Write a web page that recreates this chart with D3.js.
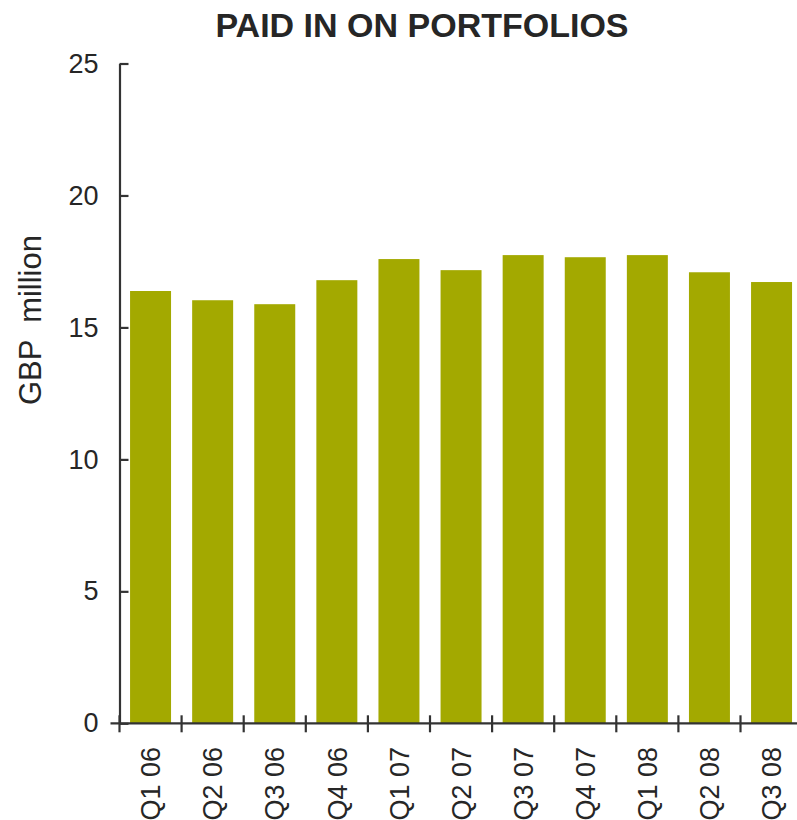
<!DOCTYPE html>
<html>
<head>
<meta charset="utf-8">
<script src="https://cdn.jsdelivr.net/npm/d3@7.9.0/dist/d3.min.js"></script>
<style>
  body { margin: 0; background: #fff; }
  svg { display: block; font-family: Arial, "Liberation Sans", sans-serif; }
</style>
</head>
<body>
<svg id="chart" width="797" height="820"></svg>
<script>
// quarters and paid-in values (GBP million)
const quarters = ["Q1 06", "Q2 06", "Q3 06", "Q4 06", "Q1 07", "Q2 07", "Q3 07", "Q4 07", "Q1 08", "Q2 08", "Q3 08"];
const paidIn = [16.38, 16.03, 15.88, 16.79, 17.59, 17.17, 17.74, 17.66, 17.74, 17.09, 16.72];
const yTicks = [0, 5, 10, 15, 20, 25];

const svg = d3.select("#chart");
const textColor = "#262626";
const barColor = "#a3a900";

// plot area
const plotLeft = 119.5, plotRight = 802.6, plotTop = 63.5, plotBottom = 723.3;

const x = d3.scaleBand()
    .domain(quarters)
    .range([plotLeft, plotRight])
    .paddingInner(0.34)
    .paddingOuter(0.17);

const y = d3.scaleLinear()
    .domain([0, 25])
    .range([plotBottom, plotTop]);

// bars
svg.append("g")
    .selectAll("rect")
    .data(quarters)
    .join("rect")
    .attr("x", d => x(d))
    .attr("width", x.bandwidth())
    .attr("y", (d, i) => y(paidIn[i]))
    .attr("height", (d, i) => y(0) - y(paidIn[i]))
    .attr("fill", barColor);

// y axis (ticks cross the line)
const yAxis = svg.append("g")
    .attr("transform", `translate(${plotLeft},0)`)
    .call(d3.axisLeft(y).tickValues(yTicks).tickSize(9).tickPadding(12).tickSizeOuter(0));
yAxis.selectAll(".tick line").attr("x2", 9);

// x axis: ticks at band boundaries, crossing the line
const xAxis = svg.append("g");
xAxis.append("line")
    .attr("x1", plotLeft - 9).attr("x2", plotRight)
    .attr("y1", plotBottom).attr("y2", plotBottom);
const step = x.step();
xAxis.selectAll("line.tk")
    .data(d3.range(quarters.length + 1))
    .join("line")
    .attr("class", "tk")
    .attr("x1", i => plotLeft + i * step).attr("x2", i => plotLeft + i * step)
    .attr("y1", plotBottom - 8).attr("y2", plotBottom + 9);

svg.selectAll("g line, g path.domain")
    .attr("stroke", "#333")
    .attr("stroke-width", 2.2);

yAxis.selectAll(".tick text")
    .attr("font-size", 27)
    .attr("font-family", "Arial, 'Liberation Sans', sans-serif")
    .attr("fill", textColor);

// x labels, rotated
svg.append("g")
    .selectAll("text")
    .data(quarters)
    .join("text")
    .attr("transform", d => `translate(${x(d) + x.bandwidth() / 2},747) rotate(-90)`)
    .attr("text-anchor", "end")
    .attr("dy", "0.36em")
    .attr("font-size", 27)
    .attr("fill", textColor)
    .text(d => d);

// y label
svg.append("text")
    .attr("transform", "translate(30,320) rotate(-90)")
    .attr("text-anchor", "middle")
    .attr("dy", "0.36em")
    .attr("font-size", 31)
    .attr("fill", textColor)
    .style("white-space", "pre")
    .text("GBP  million");

// title
svg.append("text")
    .attr("x", 422)
    .attr("y", 37)
    .attr("text-anchor", "middle")
    .attr("font-size", 34)
    .attr("font-weight", "bold")
    .attr("fill", textColor)
    .text("PAID IN ON PORTFOLIOS");
</script>
</body>
</html>
